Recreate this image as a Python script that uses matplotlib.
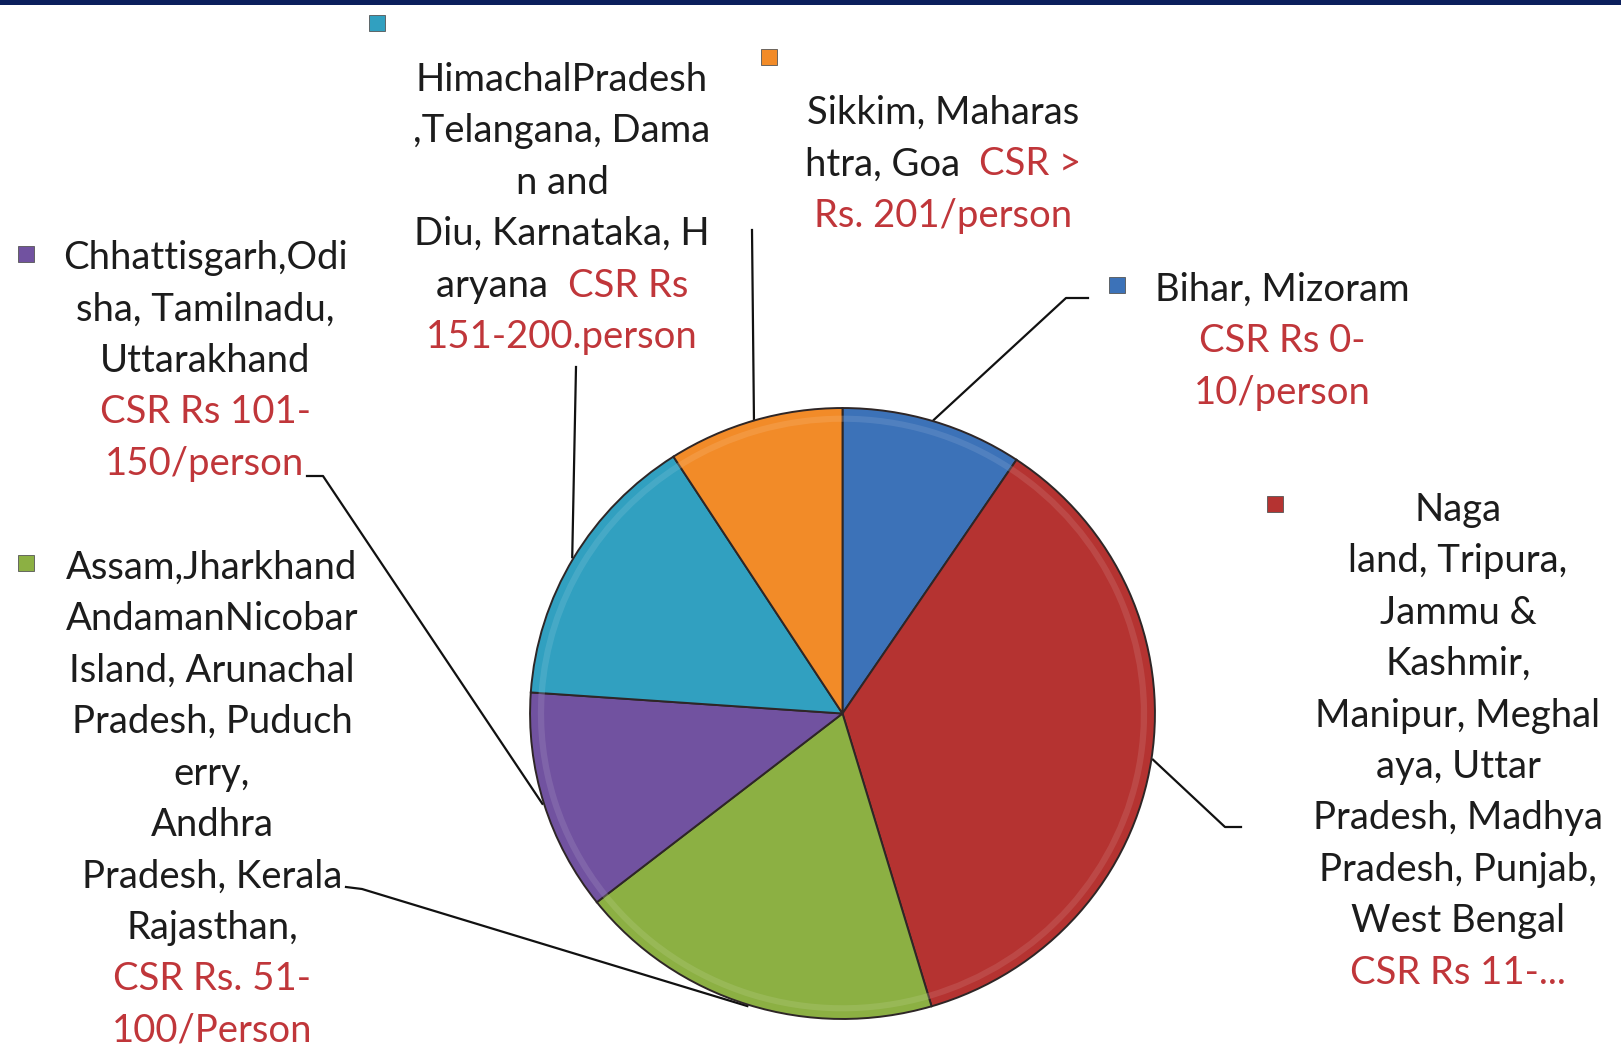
import matplotlib.pyplot as plt
import numpy as np
from matplotlib.patches import Rectangle
from matplotlib.colors import to_rgb

plt.rcParams['font.family'] = ['Lato', 'DejaVu Sans']

W, H = 1621, 1048
BLACK, RED = '#1c1c1c', '#c0363a'

# slice shares (percent of the pie), clockwise from 12 o'clock
groups = ['Bihar, Mizoram', 'Nagaland group', 'Assam group',
          'Chhattisgarh group', 'Himachal group', 'Sikkim group']
shares = [9.4, 36.0, 19.0, 11.7, 14.8, 9.1]
colors = ['#3c72b8', '#b53331', '#8cb043', '#7152a0', '#31a0c0', '#f28b28']

# label text, one list of (text, colour) segments per line
label_lines = [
    [[('Bihar, Mizoram', BLACK)], [('CSR Rs 0-', RED)], [('10/person', RED)]],
    [[('Naga', BLACK)], [('land, Tripura,', BLACK)], [('Jammu &', BLACK)],
     [('Kashmir,', BLACK)], [('Manipur, Meghal', BLACK)], [('aya, Uttar', BLACK)],
     [('Pradesh, Madhya', BLACK)], [('Pradesh, Punjab,', BLACK)],
     [('West Bengal', BLACK)], [('CSR Rs 11-...', RED)]],
    [[('Assam,Jharkhand', BLACK)], [('AndamanNicobar', BLACK)],
     [('Island, Arunachal', BLACK)], [('Pradesh, Puduch', BLACK)], [('erry,', BLACK)],
     [('Andhra', BLACK)], [('Pradesh, Kerala', BLACK)], [('Rajasthan,', BLACK)],
     [('CSR Rs. 51-', RED)], [('100/Person', RED)]],
    [[('Chhattisgarh,Odi', BLACK)], [('sha, Tamilnadu,', BLACK)], [('Uttarakhand', BLACK)],
     [('CSR Rs 101-', RED)], [('150/person', RED)]],
    [[('HimachalPradesh', BLACK)], [(',Telangana, Dama', BLACK)], [('n and', BLACK)],
     [('Diu, Karnataka, H', BLACK)], [('aryana  ', BLACK), ('CSR Rs', RED)],
     [('151-200.person', RED)]],
    [[('Sikkim, Maharas', BLACK)], [('htra, Goa  ', BLACK), ('CSR >', RED)],
     [('Rs. 201/person', RED)]],
]

# layout in pixels: text block centre x, first line y, legend key position,
# leader line start points (text side)
block_x = [1282, 1458, 212, 205, 562, 943]
block_y = [289, 509, 567, 257, 79, 112]
key_xy = [(1117, 285), (1275, 504), (26, 563), (26, 254), (377, 23), (769, 57)]
leader_start = [[(1088, 298), (1066, 298)], [(1241, 827), (1225, 827)],
                [(346, 887), (362, 889)], [(307, 476), (323, 476)],
                [(576, 367)], [(752, 230)]]
line_step = 51.4
cx, cy, Rx, Ry = 842.5, 713.5, 314, 307

fig = plt.figure(figsize=(W / 100, H / 100), dpi=100)
ax = fig.add_axes([0, 0, 1, 1])
ax.set_xlim(0, W)
ax.set_ylim(H, 0)
ax.axis('off')

# navy strip along the top edge
ax.add_patch(Rectangle((0, 0), W, 4.5, color='#0b1f5c', lw=0))

ax_pie = fig.add_axes([(cx - Rx) / W, (H - cy - Ry) / H, 2 * Rx / W, 2 * Ry / H])
wedges, _ = ax_pie.pie(shares, colors=colors, startangle=90, counterclock=False,
                       radius=1, wedgeprops=dict(edgecolor='#2e2626', linewidth=1.4))
# soft bevel: slightly lighter band just inside the rim
light = [tuple(min(1, c * 0.7 + 0.3) for c in to_rgb(col)) for col in colors]
ax_pie.pie(shares, colors=light, startangle=90, counterclock=False, radius=0.975,
           wedgeprops=dict(width=0.02, linewidth=0, alpha=0.35))
ax_pie.set_aspect('auto')
ax_pie.set_xlim(-1.005, 1.005)
ax_pie.set_ylim(-1.005, 1.005)
ax_pie.axis('off')

fig.canvas.draw()
renderer = fig.canvas.get_renderer()


def draw_line(segments, xc, y):
    texts = [ax.text(0, y, s, color=c, fontsize=27.5, ha='left', va='baseline')
             for s, c in segments]
    widths = [t.get_window_extent(renderer).width for t in texts]
    x = xc - sum(widths) / 2
    for t, w in zip(texts, widths):
        t.set_x(x)
        x += w


for i, w in enumerate(wedges):
    for k, segs in enumerate(label_lines[i]):
        draw_line(segs, block_x[i], block_y[i] + k * line_step + 12)
    kx, ky = key_xy[i]
    ax.add_patch(Rectangle((kx - 8, ky - 8), 16, 16, facecolor=colors[i],
                           edgecolor='#555555', lw=0.6))
    mid = np.deg2rad((w.theta1 + w.theta2) / 2)
    end = (cx + Rx * np.cos(mid), cy - Ry * np.sin(mid))
    pts = leader_start[i] + [end]
    ax.plot([p[0] for p in pts], [p[1] for p in pts], color='#111111', lw=1.6)

fig.savefig('out.png', dpi=100, facecolor='white')
